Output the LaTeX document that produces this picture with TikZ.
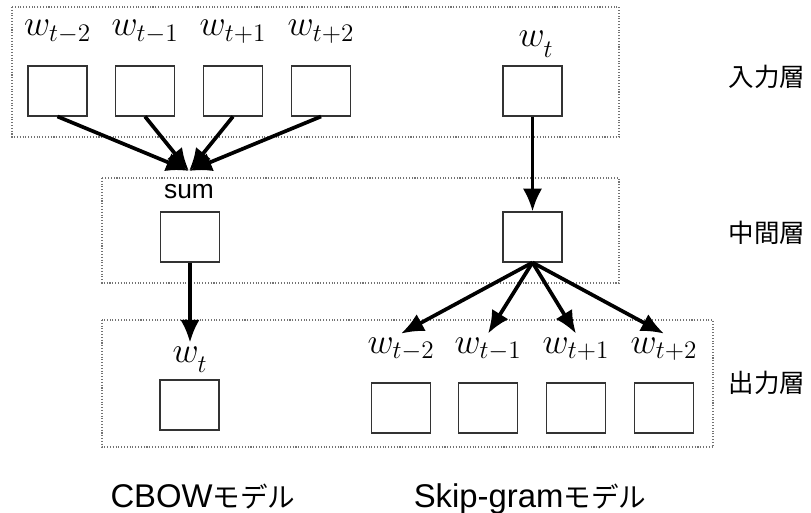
\RequirePackage{fix-cm}
\documentclass[tikz,border=0pt]{standalone}
\usepackage{fontspec}
\setsansfont{Liberation Sans}
\newfontfamily\jpfont{Noto Sans CJK JP}
\usetikzlibrary{arrows.meta}
\newcommand\wt{w_{\lower3pt\hbox{$\scriptstyle t$}}}
\begin{document}
\begin{tikzpicture}[x=0.02cm, y=-0.02cm,
  unit/.style={draw=black!80, fill=white, line width=0.6pt, minimum width=1.18cm, minimum height=1cm, inner sep=0pt},
  frame/.style={draw=black!55, densely dotted, line width=0.6pt},
  wlabel/.style={anchor=base, inner sep=2pt, font=\fontsize{20.5}{24}\selectfont},
  layer/.style={font=\fontsize{14.5}{17}\selectfont\jpfont},
  model/.style={anchor=base, font=\fontsize{18.7}{22}\selectfont\sffamily},
  conn/.style={-{Latex[length=13pt,width=11pt]}, line width=2.1pt}]
\useasboundingbox (0,0) rectangle (811,513);
\draw[frame] (12,7) rectangle (619,137);
\draw[frame] (102,178) rectangle (619,283);
\draw[frame] (102,320) rectangle (713,447);
\node[unit] (in0) at (57.5,91){};
\node[unit] (in1) at (145,91){};
\node[unit] (in2) at (233,91){};
\node[unit] (in3) at (321,91){};
\node[wlabel] (lin0) at (57.5,36){$w_{t-2}$};
\node[wlabel] (lin1) at (145,36){$w_{t-1}$};
\node[wlabel] (lin2) at (233,36){$w_{t+1}$};
\node[wlabel] (lin3) at (321,36){$w_{t+2}$};
\node[unit] (insg) at (532.5,91){};
\node[wlabel] (linsg) at (536,47){$\wt$};
\node[unit] (mid0) at (190,237){};
\node[anchor=base, font=\fontsize{15}{18}\selectfont\sffamily] (lsum) at (189,199){sum};
\coordinate (sumin) at (189,171);
\node[unit] (midsg) at (532.5,237){};
\node[unit] (out0) at (189.5,405){};
\node[wlabel] (lout0) at (190,362){$\wt$};
\node[unit] (outsg0) at (401,408){};
\node[unit] (outsg1) at (488,408){};
\node[unit] (outsg2) at (576,408){};
\node[unit] (outsg3) at (664,408){};
\node[wlabel] (loutsg0) at (401,353){$w_{t-2}$};
\node[wlabel] (loutsg1) at (488,353){$w_{t-1}$};
\node[wlabel] (loutsg2) at (576,353){$w_{t+1}$};
\node[wlabel] (loutsg3) at (664,353){$w_{t+2}$};
\node[layer] (lyin) at (767,77){入力層};
\node[layer] (lymid) at (767,233){中間層};
\node[layer] (lyout) at (767,383){出力層};
\node[model] (mcbow) at (203,507){CBOW{\fontsize{15.7}{18}\selectfont\jpfont モデル}};
\node[model] (msg) at (530,507){Skip-gram{\fontsize{15.7}{18}\selectfont\jpfont モデル}};
\draw[conn](in0.south) -- (sumin);
\draw[conn](in1.south) -- (sumin);
\draw[conn](in2.south) -- (sumin);
\draw[conn](in3.south) -- (sumin);
\draw[conn](insg.south) -- (midsg.north);
\draw[conn](mid0.south) -- (lout0.north);
\draw[conn](midsg.south) -- (loutsg0.north);
\draw[conn](midsg.south) -- (loutsg1.north);
\draw[conn](midsg.south) -- (loutsg2.north);
\draw[conn](midsg.south) -- (loutsg3.north);
\end{tikzpicture}
\end{document}
